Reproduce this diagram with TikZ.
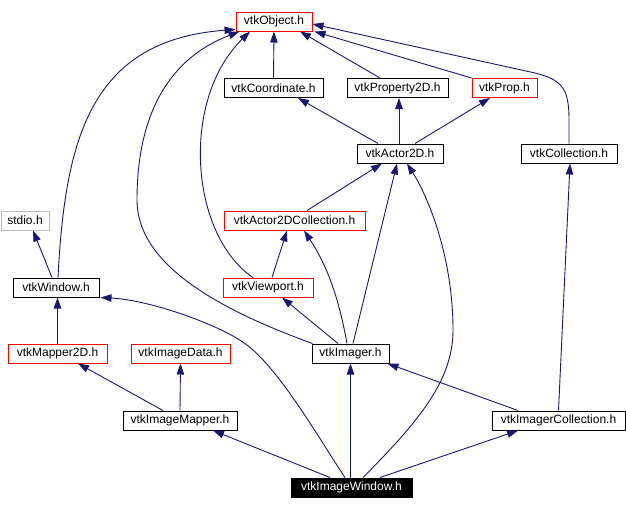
\documentclass[tikz,border=0pt]{standalone}
\usepackage{fontspec}
\setmainfont{Liberation Sans}
\usetikzlibrary{arrows.meta}
\definecolor{edgeblue}{RGB}{25,25,112}
\definecolor{lightgrayb}{RGB}{191,191,191}
\begin{document}
\begin{tikzpicture}[x=1pt,y=-1pt,
  box/.style={draw=black,line width=1pt,fill=white,minimum height=19pt,inner sep=0pt,
    font=\fontsize{12}{13}\selectfont,text=black},
  redbox/.style={box,draw=red},
  graybox/.style={box,draw=lightgrayb},
  darkbox/.style={box,fill=black,text=white},
  edge/.style={draw=edgeblue,line width=0.9pt,-{Triangle[length=11pt,width=7.5pt]}}]
\useasboundingbox (0,0) rectangle (626,509);
% nodes
\node[redbox,minimum width=76pt] (obj) at (274,21.5) {vtkObject.h};
\node[box,minimum width=99pt] (coord) at (273.5,88) {vtkCoordinate.h};
\node[box,minimum width=101pt] (prop2d) at (397.5,88) {vtkProperty2D.h};
\node[redbox,minimum width=65pt] (prop) at (504.5,88) {vtkProp.h};
\node[box,minimum width=86pt] (actor) at (400,153.5) {vtkActor2D.h};
\node[box,minimum width=96pt] (coll) at (569,153.5) {vtkCollection.h};
\node[graybox,minimum width=48pt] (stdio) at (25,220.5) {stdio.h};
\node[redbox,minimum width=141pt] (a2dc) at (294.5,220.5) {vtkActor2DCollection.h};
\node[box,minimum width=86pt] (win) at (56,287.5) {vtkWindow.h};
\node[redbox,minimum width=90pt] (view) at (268,287.5) {vtkViewport.h};
\node[redbox,minimum width=99pt] (map2d) at (57.5,353.5) {vtkMapper2D.h};
\node[redbox,minimum width=99pt] (idata) at (180.5,353.5) {vtkImageData.h};
\node[box,minimum width=77pt] (imager) at (350.5,353.5) {vtkImager.h};
\node[box,minimum width=114pt] (imapper) at (180,420.5) {vtkImageMapper.h};
\node[box,minimum width=133pt] (icoll) at (558.5,420.5) {vtkImagerCollection.h};
\node[darkbox,minimum width=121pt] (iwin) at (351.5,487.5) {vtkImageWindow.h};
% edges
\draw[edge] (coord.north) -- (obj.south);
\draw[edge] ([xshift=-17.5pt]prop2d.north) -- ([xshift=26pt]obj.south);
\draw[edge] (prop.north west) -- ([xshift=2pt]obj.south east);
\draw[edge] (coll.north) -- (569,120) .. controls (569,88) and (562,80) .. (535,73) -- ([yshift=-2.5pt]obj.east);
\draw[edge] ([xshift=-22pt]actor.north) -- ([xshift=24.5pt]coord.south);
\draw[edge] ([xshift=-1pt]actor.north) -- ([xshift=1.5pt]prop2d.south);
\draw[edge] ([xshift=15pt]actor.north) -- ([xshift=-14.5pt]prop.south);
\draw[edge] ([xshift=12.5pt]a2dc.north) -- ([xshift=-18pt]actor.south);
\draw[edge] ([xshift=2pt]win.north) .. controls (65,140) and (90,40) .. ([yshift=2pt]obj.south west);
\draw[edge] ([xshift=-4pt]win.north) -- ([xshift=8pt]stdio.south);
\draw[edge] ([xshift=-15pt]view.north) .. controls (190,235) and (180,100) .. ([xshift=-24pt]obj.south);
\draw[edge] ([xshift=4pt]view.north) -- ([xshift=-7.5pt]a2dc.south);
\draw[edge] ([xshift=1pt]imager.north west) .. controls (220,310) and (137,265) .. (137,200)
  .. controls (137,120) and (165,60) .. ([xshift=4pt]obj.south west);
\draw[edge] ([xshift=-12.5pt]imager.north) -- ([xshift=14pt]view.south);
\draw[edge] ([xshift=-3.5pt]imager.north) .. controls (340,305) and (330,270) .. ([xshift=9.5pt]a2dc.south);
\draw[edge] ([xshift=2.5pt]imager.north) -- ([xshift=-3pt]actor.south);
\draw[edge] ([xshift=11.5pt]iwin.north) .. controls (420,420) and (453,380) .. (453,330)
  .. controls (453,260) and (430,200) .. ([xshift=7pt]actor.south);
\draw[edge] ([xshift=-6.5pt]iwin.north) .. controls (320,440) and (280,370) .. (247,345)
  .. controls (221,325) and (150,300) .. ([xshift=1pt]win.south east);
\draw[edge] ([xshift=-1pt]iwin.north) -- (imager.south);
\draw[edge] ([xshift=-21.5pt]iwin.north) -- ([xshift=33pt]imapper.south);
\draw[edge] ([xshift=28.5pt]iwin.north) -- ([xshift=-40.5pt]icoll.south);
\draw[edge] ([xshift=-40.5pt]icoll.north) -- ([xshift=-2pt]imager.south east);
\draw[edge] (icoll.north) -- ([xshift=1pt]coll.south);
\draw[edge] ([xshift=-17pt]imapper.north) -- ([xshift=20.5pt]map2d.south);
\draw[edge] (imapper.north) -- (idata.south);
\draw[edge] (map2d.north) -- ([xshift=1.5pt]win.south);
\end{tikzpicture}
\end{document}
